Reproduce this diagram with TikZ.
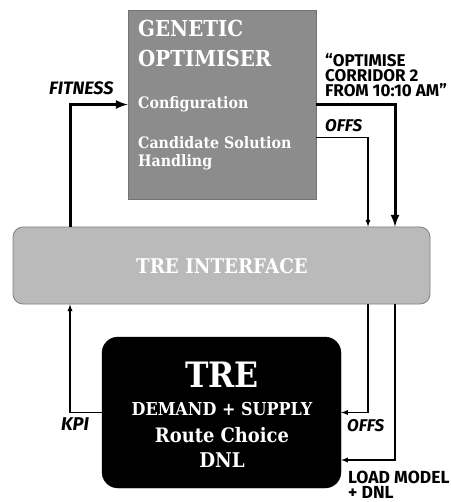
\documentclass[tikz,border=0pt]{standalone}
\usepackage{fontspec}
\setmainfont{DejaVu Serif}[FakeStretch=0.9]
\newfontfamily\lblfont{Fira Sans}
\usepackage{tikz}
\usetikzlibrary{calc, positioning}

\begin{document}
\begin{tikzpicture}[>=latex, x=1pt, y=-1pt,
    optbox/.style={draw=black!55, fill=black!45, line width=0.8pt, inner sep=0pt},
    ifbox/.style={draw=black!50, fill=black!27, line width=0.8pt, rounded corners=10pt, inner sep=0pt},
    trebox/.style={draw=black, fill=black, rounded corners=16pt, inner sep=0pt},
    wtxt/.style={text=white, inner sep=0pt},
    lbl/.style={inner sep=0pt},
    fat/.style={line width=3pt},
    slim/.style={line width=1.3pt}]
    \useasboundingbox (0,0) rectangle (450,502);

    % 1. Boxes
    \node[optbox, minimum width=188pt, minimum height=189pt] (gen) at (222,104.5) {};
    \node[ifbox, minimum width=417pt, minimum height=77pt] (iface) at (221.5,265.5) {};
    \node[trebox, minimum width=239pt, minimum height=151pt] (tre) at (221.5,412.5) {};

    % 2. Texts in the boxes
    \node[wtxt, anchor=base west, font=\fontsize{22}{26}\selectfont\bfseries] (gen1) at (138,37) {GENETIC};
    \node[wtxt, anchor=base west, font=\fontsize{22}{26}\selectfont\bfseries] (gen2) at (138,67) {OPTIMISER};
    \node[wtxt, anchor=base west, font=\fontsize{15.8}{18}\selectfont\bfseries] (conf) at (138,109) {Configuration};
    \node[wtxt, anchor=base west, font=\fontsize{15.8}{18}\selectfont\bfseries] (cand1) at (138,149) {Candidate Solution};
    \node[wtxt, anchor=base west, font=\fontsize{15.8}{18}\selectfont\bfseries] (cand2) at (138,167) {Handling};
    \node[wtxt, anchor=base, font=\fontsize{20.3}{24}\selectfont\bfseries] (ifname) at (222,273) {TRE INTERFACE};
    \node[wtxt, anchor=base, font=\fontsize{35}{40}\selectfont\bfseries] (trename) at (222,387) {TRE};
    \node[wtxt, anchor=base, font=\fontsize{17.8}{20}\selectfont\bfseries] (tre1) at (222,415) {DEMAND + SUPPLY};
    \node[wtxt, anchor=base, font=\fontsize{19.9}{22}\selectfont\bfseries] (tre2) at (222,442) {Route Choice};
    \node[wtxt, anchor=base, font=\fontsize{20.3}{22}\selectfont\bfseries] (tre3) at (222,467) {DNL};

    % 3. Columns of the connectors
    \coordinate (fitx) at (70,0);
    \coordinate (offsx) at (368,0);
    \coordinate (loadx) at (395,0);
    \coordinate (offsy) at (0,137.5);
    \coordinate (loady) at (0,460);

    % 4. Connectors
    \draw[fat, ->] (iface.north -| fitx) |- (gen.west);
    \draw[fat, ->] (gen.east) -| (iface.north -| loadx);
    \draw[slim, ->] (gen.east |- offsy) -| (iface.north -| offsx);
    \draw[slim, ->] (tre.west) -| (iface.south -| fitx);
    \draw[slim, ->] (iface.south -| offsx) |- (tre.east);
    \draw[slim, ->] (iface.south -| loadx) |- (tre.east |- loady);

    % 5. Labels
    \node[lbl, anchor=base west, font=\fontsize{18}{20}\selectfont\lblfont\bfseries\itshape] (fitness) at (49,95) {FITNESS};
    \node[lbl, anchor=base west, font=\fontsize{17}{15}\selectfont\lblfont\bfseries] (quote1) at (325,66.5) {“OPTIMISE};
    \node[lbl, anchor=base west, font=\fontsize{17}{15}\selectfont\lblfont\bfseries] (quote2) at (325,81.5) {CORRIDOR 2};
    \node[lbl, anchor=base west, font=\fontsize{17}{15}\selectfont\lblfont\bfseries] (quote3) at (325,97) {FROM 10:10 AM”};
    \node[lbl, anchor=base west, font=\fontsize{17}{20}\selectfont\lblfont\bfseries\itshape] (offs1) at (325,132) {OFFS};
    \node[lbl, anchor=base west, font=\fontsize{18.5}{20}\selectfont\lblfont\bfseries\itshape] (kpi) at (61,430) {KPI};
    \node[lbl, anchor=base west, font=\fontsize{17}{20}\selectfont\lblfont\bfseries\itshape] (offs2) at (347,431) {OFFS};
    \node[lbl, anchor=base west, font=\fontsize{17.5}{20}\selectfont\lblfont\bfseries] (load1) at (348,483) {LOAD MODEL};
    \node[lbl, anchor=base west, font=\fontsize{17.5}{20}\selectfont\lblfont\bfseries] (load2) at (348,498) {+ DNL};
\end{tikzpicture}
\end{document}
